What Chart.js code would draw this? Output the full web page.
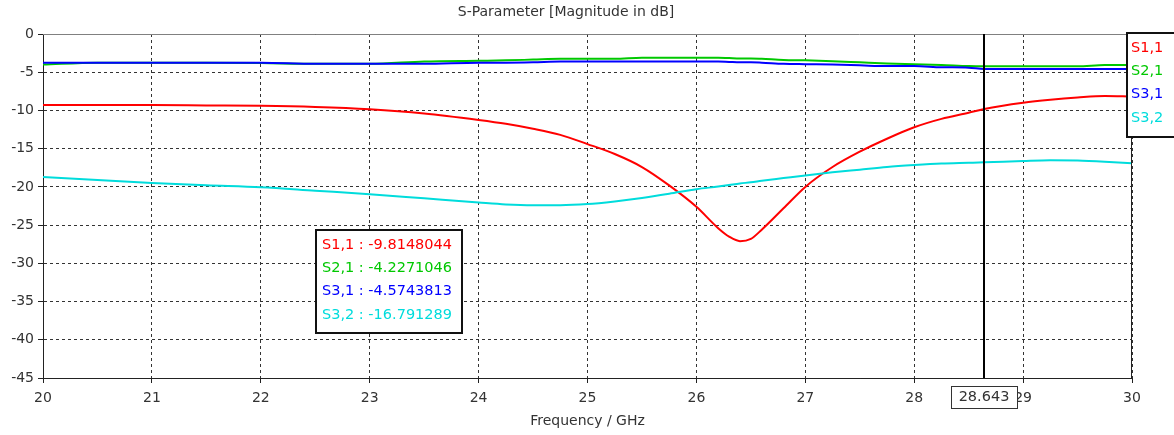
<!DOCTYPE html>
<html><head><meta charset="utf-8">
<script src="https://cdn.jsdelivr.net/npm/chart.js@4.4.0/dist/chart.umd.min.js"></script>
<style>html,body{margin:0;padding:0;background:#fff;overflow:hidden}canvas{display:block}</style>
</head><body>
<canvas id="c" width="1174" height="435"></canvas>
<script>
// ---- data ----
const freqs = [20, 20.5, 21, 21.5, 22, 22.5, 23, 23.5, 24, 24.25, 24.5, 24.75, 25, 25.25, 25.5, 25.75, 26, 26.2, 26.3, 26.4, 26.5, 26.6, 26.8, 27, 27.25, 27.5, 27.75, 28, 28.25, 28.5, 28.643, 29, 29.25, 29.5, 29.75, 30];
const s11 = [-9.3, -9.3, -9.3, -9.35, -9.4, -9.55, -9.85, -10.4, -11.25, -11.75, -12.4, -13.2, -14.4, -15.7, -17.4, -19.8, -22.6, -25.4, -26.5, -27.1, -26.8, -25.6, -22.8, -20.0, -17.4, -15.4, -13.7, -12.2, -11.1, -10.3, -9.8148044, -9.0, -8.6, -8.3, -8.1, -8.2];
const s21 = [-4.0, -3.75, -3.75, -3.75, -3.8, -3.9, -3.9, -3.6, -3.5, -3.45, -3.35, -3.25, -3.25, -3.25, -3.1, -3.1, -3.1, -3.1, -3.15, -3.2, -3.2, -3.25, -3.4, -3.45, -3.55, -3.7, -3.85, -3.95, -4.05, -4.2, -4.2271046, -4.23, -4.23, -4.23, -4.05, -4.05];
const s31 = [-3.75, -3.75, -3.75, -3.75, -3.75, -3.9, -3.9, -3.9, -3.75, -3.75, -3.7, -3.6, -3.6, -3.6, -3.6, -3.6, -3.6, -3.6, -3.65, -3.7, -3.7, -3.75, -3.9, -3.95, -4.0, -4.1, -4.2, -4.2, -4.35, -4.4, -4.5743813, -4.57, -4.57, -4.57, -4.57, -4.57];
const s32 = [-18.7, -19.1, -19.5, -19.8, -20.05, -20.5, -20.95, -21.5, -22.05, -22.3, -22.4, -22.4, -22.25, -21.9, -21.45, -20.9, -20.3, -19.95, -19.75, -19.55, -19.4, -19.2, -18.85, -18.5, -18.1, -17.75, -17.4, -17.15, -16.95, -16.85, -16.791289, -16.6, -16.5, -16.55, -16.7, -16.9];
const seriesNames = ["S1,1", "S2,1", "S3,1", "S3,2"];
const seriesColors = ["#ff0000", "#00c800", "#0000ff", "#00dcdc"];
const markerFreq = 28.643;
const markerLabel = "28.643";
const markerValues = ["-9.8148044", "-4.2271046", "-4.5743813", "-16.791289"];
const xTickValues = [20, 21, 22, 23, 24, 25, 26, 27, 28, 29, 30];
const yTickValues = [0, -5, -10, -15, -20, -25, -30, -35, -40, -45];
const chartTitle = "S-Parameter [Magnitude in dB]";
const xTitle = "Frequency / GHz";

const FONT = "'DejaVu Sans', Verdana, sans-serif";
const allSeries = [s11, s21, s31, s32];

const overlay = {
  id: 'overlay',
  afterDatasetsDraw(chart) {
    const {ctx, chartArea: a, scales: {x}} = chart;
    ctx.save();
    ctx.lineWidth = 1;
    ctx.strokeStyle = '#808080';
    ctx.beginPath(); ctx.moveTo(a.left, a.top + 0.5); ctx.lineTo(a.right, a.top + 0.5); ctx.stroke();
    ctx.strokeStyle = '#222';
    ctx.beginPath(); ctx.moveTo(Math.round(a.right) - 0.5, a.top); ctx.lineTo(Math.round(a.right) - 0.5, a.bottom); ctx.stroke();
    const mx = Math.round(x.getPixelForValue(markerFreq));
    ctx.lineWidth = 2;
    ctx.strokeStyle = '#000';
    ctx.beginPath(); ctx.moveTo(mx, a.top); ctx.lineTo(mx, a.bottom); ctx.stroke();
    ctx.font = "14.5px " + FONT;
    ctx.textBaseline = 'middle';
    ctx.textAlign = 'left';
    const bx = 316, by = 230, bw = 146, bh = 103;
    ctx.fillStyle = '#fff';
    ctx.fillRect(bx, by, bw, bh);
    ctx.lineWidth = 2;
    ctx.strokeStyle = '#111';
    ctx.strokeRect(bx, by, bw, bh);
    for (let i = 0; i < seriesNames.length; i++) {
      ctx.fillStyle = seriesColors[i];
      ctx.fillText(seriesNames[i] + " : " + markerValues[i], bx + 6, by + 15 + i * 23.3);
    }
    const lx = 1127, ly = 33, lw = 60, lh = 104;
    ctx.fillStyle = '#fff';
    ctx.fillRect(lx, ly, lw, lh);
    ctx.strokeStyle = '#111';
    ctx.strokeRect(lx, ly, lw, lh);
    for (let i = 0; i < seriesNames.length; i++) {
      ctx.fillStyle = seriesColors[i];
      ctx.fillText(seriesNames[i], lx + 4, ly + 15 + i * 23.3);
    }
    ctx.restore();
  },
  afterDraw(chart) {
    const {ctx, chartArea: a, scales: {x}} = chart;
    const mx = Math.round(x.getPixelForValue(markerFreq));
    ctx.save();
    ctx.font = "14.5px " + FONT;
    const w = 66, h = 22;
    ctx.fillStyle = '#fff';
    ctx.fillRect(mx - w / 2 + 0.5, a.bottom + 8.5, w, h);
    ctx.lineWidth = 1;
    ctx.strokeStyle = '#333';
    ctx.strokeRect(mx - w / 2 + 0.5, a.bottom + 8.5, w, h);
    ctx.fillStyle = '#333';
    ctx.textAlign = 'center';
    ctx.textBaseline = 'middle';
    ctx.fillText(markerLabel, mx, a.bottom + 8.5 + h / 2);
    ctx.restore();
  }
};

new Chart(document.getElementById('c'), {
  type: 'line',
  data: {
    datasets: seriesNames.map((n, i) => ({
      label: n,
      data: freqs.map((f, k) => ({x: f, y: allSeries[i][k]})),
      borderColor: seriesColors[i],
      borderWidth: 2,
      pointRadius: 0,
      cubicInterpolationMode: 'monotone',
      fill: false,
      order: [1, 3, 2, 0][i]
    }))
  },
  options: {
    responsive: false,
    animation: false,
    devicePixelRatio: 1,
    layout: {padding: {left: 0, right: 42, top: 0, bottom: 0}},
    plugins: {
      legend: {display: false},
      tooltip: {enabled: false},
      title: {
        display: true, text: chartTitle, color: '#333',
        font: {family: FONT, size: 14, weight: 'normal', lineHeight: 1.2},
        padding: {top: 4, bottom: 13.2}
      }
    },
    scales: {
      x: {
        type: 'linear', min: 20, max: 30,
        afterBuildTicks: s => { s.ticks = xTickValues.map(v => ({value: v})); },
        afterFit: s => { s.height = 57; },
        ticks: {color: '#333', font: {family: FONT, size: 14}, padding: 7, maxRotation: 0, autoSkip: false},
        grid: {color: '#333', lineWidth: 1, tickLength: 5, tickColor: '#222', tickBorderDash: []},
        border: {display: true, color: '#222', width: 1, dash: [3, 3]},
        title: {display: true, text: xTitle, color: '#333', font: {family: FONT, size: 14, lineHeight: 1.2}, padding: {top: 0, bottom: 5.6}}
      },
      y: {
        min: -45, max: 0,
        afterBuildTicks: s => { s.ticks = yTickValues.map(v => ({value: v})); },
        afterFit: s => { s.width = 43; },
        ticks: {color: '#333', font: {family: FONT, size: 14}, padding: 4, autoSkip: false},
        grid: {color: '#333', lineWidth: 1, tickLength: 5, tickColor: '#222', tickBorderDash: []},
        border: {display: true, color: '#222', width: 1, dash: [3, 3]}
      }
    }
  },
  plugins: [overlay]
});
</script>
</body></html>
